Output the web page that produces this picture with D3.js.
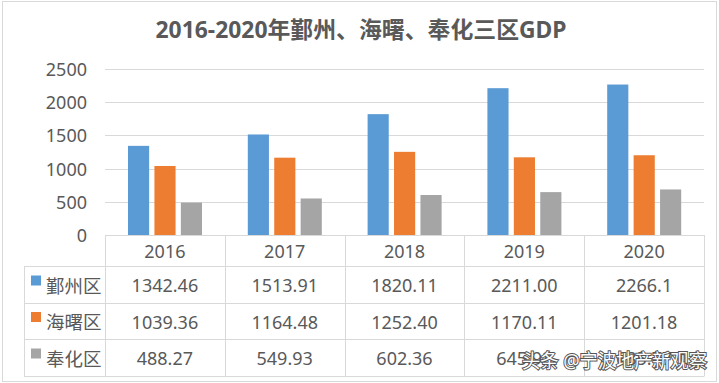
<!DOCTYPE html>
<html><head><meta charset="utf-8">
<script src="https://cdn.jsdelivr.net/npm/d3@7"></script>
<style>
html,body{margin:0;padding:0;background:#fff;}
text{font-family:"Noto Sans","Noto Sans CJK SC",sans-serif;fill:#595959;}
</style></head>
<body><svg id="c" width="719" height="383"></svg>
<script>
const title = "2016-2020年鄞州、海曙、奉化三区GDP";
const years = ["2016","2017","2018","2019","2020"];
const seriesNames = ["鄞州区","海曙区","奉化区"];
const yinzhou = [1342.46, 1513.91, 1820.11, 2211.00, 2266.1];
const haishu = [1039.36, 1164.48, 1252.40, 1170.11, 1201.18];
const fenghua = [488.27, 549.93, 602.36, 645.93, 685.77];
const labels = [
  ["1342.46","1513.91","1820.11","2211.00","2266.1"],
  ["1039.36","1164.48","1252.40","1170.11","1201.18"],
  ["488.27","549.93","602.36","645.93","685.77"]
];
const yTicks = [0,500,1000,1500,2000,2500];
const colors = ["#5B9BD5","#ED7D31","#A5A5A5"];
const watermark = "头条 @宁波地产新观察";

const values = [yinzhou, haishu, fenghua];
const svg = d3.select("#c");
const lineCol = "#d9d9d9";

// outer border
svg.append("rect").attr("x",2.5).attr("y",1.5).attr("width",714).attr("height",380)
  .attr("fill","none").attr("stroke",lineCol);

// title
svg.append("text").attr("x",361).attr("y",29).attr("text-anchor","middle")
  .attr("dominant-baseline","central").style("font-size","23px").style("font-weight","bold")
  .attr("textLength",411).attr("lengthAdjust","spacingAndGlyphs")
  .text(title);

const x0 = d3.scaleBand().domain(years).range([105,704]).padding(0);
const x1 = d3.scaleBand().domain(seriesNames).range([23,97]).paddingInner(0.2).paddingOuter(0);
const y = d3.scaleLinear().domain([0,2500]).range([235,69]);

// gridlines
svg.append("g").selectAll("line").data(yTicks).join("line")
  .attr("x1",105).attr("x2",704).attr("y1",d=>Math.round(y(d))+0.5).attr("y2",d=>Math.round(y(d))+0.5)
  .attr("stroke",lineCol);

// y labels
svg.append("g").selectAll("text").data(yTicks).join("text")
  .attr("x",87).attr("y",d=>y(d)).attr("text-anchor","end").attr("dominant-baseline","central")
  .style("font-size","18px").text(d=>d);

// bars
seriesNames.forEach((s,si)=>{
  svg.append("g").selectAll("rect").data(years).join("rect")
    .attr("x",d=>x0(d)+x1(s)).attr("width",x1.bandwidth())
    .attr("y",(d,i)=>y(values[si][i])).attr("height",(d,i)=>y(0)-y(values[si][i]))
    .attr("fill",colors[si]);
});

// table
const rowY = [235,266,303,339,376];
const tg = svg.append("g");
rowY.slice(1).forEach(r=>{
  tg.append("line").attr("x1",24).attr("x2",704).attr("y1",r+0.5).attr("y2",r+0.5).attr("stroke",lineCol);
});
const colX = years.map(d=>x0(d)).concat([x0.range()[1]]);
colX.forEach(cx=>{
  tg.append("line").attr("x1",Math.round(cx)+0.5).attr("x2",Math.round(cx)+0.5).attr("y1",235).attr("y2",376.5).attr("stroke",lineCol);
});
tg.append("line").attr("x1",24.5).attr("x2",24.5).attr("y1",266).attr("y2",376.5).attr("stroke",lineCol);

tg.selectAll("text.h").data(years).join("text").attr("class","h")
  .attr("x",d=>x0(d)+x0.bandwidth()/2).attr("y",(rowY[0]+rowY[1])/2+0.5)
  .attr("text-anchor","middle").attr("dominant-baseline","central").style("font-size","18px").text(d=>d);

seriesNames.forEach((s,si)=>{
  const cy = (rowY[si+1]+rowY[si+2])/2 + 0.5;
  tg.append("rect").attr("x",31).attr("y",cy-9.5).attr("width",10).attr("height",10).attr("fill",colors[si]);
  tg.append("text").attr("x",46).attr("y",cy).attr("dominant-baseline","central")
    .style("font-size","18.5px").text(s);
  tg.selectAll("text.v"+si).data(years).join("text").attr("class","v"+si)
    .attr("x",d=>x0(d)+x0.bandwidth()/2).attr("y",cy)
    .attr("text-anchor","middle").attr("dominant-baseline","central").style("font-size","18px")
    .text((d,i)=>labels[si][i]);
});

// watermark
svg.append("text").attr("x",522).attr("y",361).attr("dominant-baseline","central")
  .style("font-size","19px").style("fill","#ffffff").style("stroke","#555").style("stroke-width","2px")
  .style("paint-order","stroke")
  .attr("textLength",185).attr("lengthAdjust","spacingAndGlyphs")
  .text(watermark);
</script></body></html>
